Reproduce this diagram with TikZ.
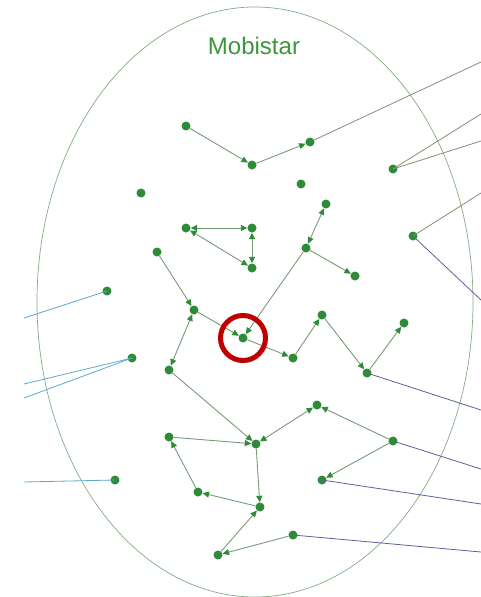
\documentclass[tikz,border=0pt]{standalone}
\usepackage{fontspec}
\setmainfont{Liberation Sans}
\usetikzlibrary{arrows.meta}
\definecolor{ngreen}{RGB}{46,139,56}
\definecolor{egreen}{RGB}{120,155,120}
\definecolor{ellcol}{RGB}{130,175,130}
\definecolor{olivec}{RGB}{140,140,120}
\definecolor{purplec}{RGB}{105,90,155}
\definecolor{cyanc}{RGB}{90,170,205}
\definecolor{titlec}{RGB}{60,150,60}
\definecolor{redc}{RGB}{192,0,0}
\tikzset{
  dot/.style={circle,fill=ngreen,draw=none,minimum size=9pt,inner sep=0pt},
  edge/.style={draw=egreen,line width=0.9pt},
  arr/.style={edge,-{Triangle[length=6.5pt,width=6pt,color=ngreen]}},
  barr/.style={edge,{Triangle[length=6.5pt,width=6pt,color=ngreen]}-{Triangle[length=6.5pt,width=6pt,color=ngreen]}},
  olivel/.style={draw=olivec,line width=0.8pt},
  purplel/.style={draw=purplec,line width=0.8pt},
  cyanl/.style={draw=cyanc,line width=0.8pt},
}
\begin{document}
\begin{tikzpicture}[x=1pt,y=-1pt]
\useasboundingbox (0,0) rectangle (481,597);
\fill[white] (0,0) rectangle (481,597);
\draw[ellcol,line width=0.7pt] (255,302) ellipse [x radius=218, y radius=295];
\node[text=titlec,font=\fontsize{24}{28}\selectfont] (title) at (254,46) {Mobistar};
% nodes
\node[dot] (A) at (186,126) {};
\node[dot] (B) at (252,165) {};
\node[dot] (C) at (310,142) {};
\node[dot] (D) at (393,169) {};
\node[dot] (E) at (301,184) {};
\node[dot] (F) at (141,193) {};
\node[dot] (G) at (326,204) {};
\node[dot] (H) at (186,228) {};
\node[dot] (I) at (252,228) {};
\node[dot] (J) at (252,268) {};
\node[dot] (K) at (157,252) {};
\node[dot] (L) at (306,248) {};
\node[dot] (M) at (355,276) {};
\node[dot] (N) at (413,236) {};
\node[dot] (O) at (107,291) {};
\node[dot] (P) at (194,310) {};
\node[dot] (Q) at (243,338) {};
\node[dot] (R) at (322,315) {};
\node[dot] (S) at (404,323) {};
\node[dot] (T) at (293,358) {};
\node[dot] (U) at (132,358) {};
\node[dot] (V) at (169,370) {};
\node[dot] (W) at (367,373) {};
\node[dot] (X) at (317,405) {};
\node[dot] (Y) at (169,437) {};
\node[dot] (Z) at (256,444) {};
\node[dot] (AA) at (393,441) {};
\node[dot] (AB) at (115,480) {};
\node[dot] (AC) at (322,480) {};
\node[dot] (AD) at (198,492) {};
\node[dot] (AE) at (260,507) {};
\node[dot] (AF) at (293,535) {};
\node[dot] (AG) at (218,555) {};
% free ends
\coordinate (c1) at (481,62);
\coordinate (d1) at (481,114);
\coordinate (d2) at (481,141);
\coordinate (n1) at (481,193);
\coordinate (n2) at (481,300);
\coordinate (w1) at (481,410);
\coordinate (aa1) at (481,469);
\coordinate (ac1) at (481,504);
\coordinate (af1) at (481,552);
\coordinate (o1) at (24,318);
\coordinate (u1) at (24,384);
\coordinate (u2) at (24,398);
\coordinate (ab1) at (24,482);
% external lines
\draw[olivel] (C) -- (c1);
\draw[olivel] (D.center) -- (d1);
\draw[olivel] (D.center) -- (d2);
\draw[olivel] (N.center) -- (n1);
\draw[purplel] (N.center) -- (n2);
\draw[purplel] (W.center) -- (w1);
\draw[purplel] (AA.center) -- (aa1);
\draw[purplel] (AC.center) -- (ac1);
\draw[purplel] (AF.center) -- (af1);
\draw[cyanl] (O.center) -- (o1);
\draw[cyanl] (U.center) -- (u1);
\draw[cyanl] (U.center) -- (u2);
\draw[cyanl] (AB.center) -- (ab1);
% internal edges
\draw[arr] (A) -- (B);
\draw[arr] (B) -- (C);
\draw[barr] (H) -- (I);
\draw[barr] (I) -- (J);
\draw[barr] (H) -- (J);
\draw[arr] (K) -- (P);
\draw[arr] (P) -- (Q);
\draw[barr] (P) -- (V);
\draw[arr] (L) -- (Q);
\draw[barr] (L) -- (G);
\draw[arr] (L) -- (M);
\draw[arr] (Q) -- (T);
\draw[arr] (T) -- (R);
\draw[arr] (R) -- (W);
\draw[arr] (W) -- (S);
\draw[arr] (V) -- (Z);
\draw[arr] (Y) -- (Z);
\draw[barr] (Z) -- (X);
\draw[arr] (AA) -- (X);
\draw[arr] (AA) -- (AC);
\draw[arr] (Z) -- (AE);
\draw[arr] (AE) -- (AD);
\draw[arr] (AD) -- (Y);
\draw[arr] (AG) -- (AE);
\draw[arr] (AF) -- (AG);
% highlight
\draw[redc,line width=5pt] (Q) circle [radius=22.5];
\end{tikzpicture}
\end{document}
